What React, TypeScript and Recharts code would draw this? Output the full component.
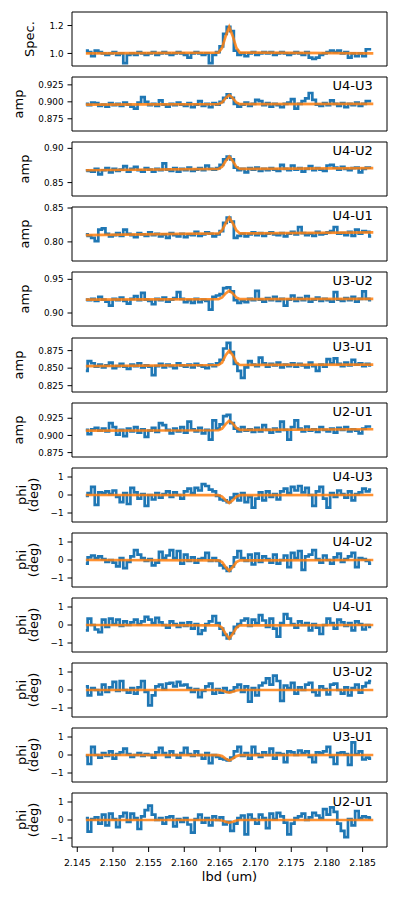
import React from 'react';
import { LineChart, Line, XAxis, YAxis, ReferenceArea } from 'recharts';

// wavelength grid of the measured spectra (um)
const lbd = [
  2.1462, 2.1467, 2.1472, 2.1477, 2.1482, 2.1487, 2.1492, 2.1497, 2.1502, 2.1507,
  2.1512, 2.1517, 2.1522, 2.1527, 2.1532, 2.1537, 2.1542, 2.1547, 2.1552, 2.1557,
  2.1562, 2.1567, 2.1572, 2.1577, 2.1582, 2.1587, 2.1592, 2.1597, 2.1602, 2.1607,
  2.1612, 2.1617, 2.1622, 2.1627, 2.1632, 2.1637, 2.1642, 2.1647, 2.1652, 2.1657,
  2.1662, 2.1667, 2.1672, 2.1677, 2.1682, 2.1687, 2.1692, 2.1697, 2.1702, 2.1707,
  2.1712, 2.1717, 2.1722, 2.1727, 2.1732, 2.1737, 2.1742, 2.1747, 2.1752, 2.1757,
  2.1762, 2.1767, 2.1772, 2.1777, 2.1782, 2.1787, 2.1792, 2.1797, 2.1802, 2.1807,
  2.1812, 2.1817, 2.1822, 2.1827, 2.1832, 2.1837, 2.1842, 2.1847, 2.1852, 2.1857,
  2.1862,
];

// wavelengths where the model curve is sampled
const modelLbd = [2.1462, 2.1648, 2.1653, 2.1658, 2.1663, 2.1668, 2.1673, 2.1678, 2.1865];

const lbdTicks = [2.145, 2.15, 2.155, 2.16, 2.165, 2.17, 2.175, 2.18, 2.185];
const specTicks = [1.0, 1.2];
const amp3Ticks = [0.875, 0.9, 0.925];
const u4u2Ticks = [0.85, 0.9];
const u4u1Ticks = [0.8, 0.85];
const u3u2Ticks = [0.9, 0.95];
const u3u1Ticks = [0.825, 0.85, 0.875];
const phiTicks = [-1, 0, 1];

const spec = [
  1.02, 1.01, 0.98, 1.02, 1.01, 1.0, 0.99, 1.0, 1.01, 0.99,
  1.0, 0.93, 0.99, 1.0, 0.99, 1.01, 1.0, 0.99, 1.0, 1.01,
  0.99, 1.0, 1.01, 1.0, 0.99, 1.0, 1.01, 1.0, 0.99, 0.97,
  1.0, 1.01, 1.0, 0.99, 1.0, 0.93, 0.99, 1.01, 1.05, 1.14,
  1.19, 1.16, 1.02, 0.99, 1.0, 0.98, 1.0, 1.01, 0.99, 1.0,
  1.01, 1.0, 1.01, 0.99, 1.0, 1.01, 1.0, 0.99, 1.0, 1.01,
  1.0, 0.99, 1.01, 0.97, 0.96, 0.97, 0.99, 1.0, 1.01, 1.02,
  1.01, 1.02, 1.0, 1.01, 0.97, 1.0, 0.98, 1.0, 0.98, 1.03,
  1.03,
];
const specModel = [1.0, 1.006, 1.04, 1.124, 1.19, 1.124, 1.04, 1.006, 1.0];

const ampU4U3 = [
  0.897, 0.895, 0.899, 0.898, 0.894, 0.896, 0.893, 0.898, 0.895, 0.897,
  0.894, 0.899, 0.896, 0.893, 0.89, 0.899, 0.907, 0.9, 0.895, 0.897,
  0.894, 0.902, 0.896, 0.893, 0.897, 0.895, 0.899, 0.896, 0.894, 0.898,
  0.892, 0.896, 0.901, 0.894, 0.897, 0.892, 0.898, 0.896, 0.9, 0.906,
  0.911, 0.906, 0.897, 0.893, 0.896, 0.899, 0.894, 0.897, 0.903, 0.901,
  0.895, 0.898, 0.893, 0.897, 0.895, 0.892, 0.897, 0.899, 0.904, 0.89,
  0.897, 0.901, 0.905, 0.913, 0.903, 0.896, 0.894, 0.898, 0.895, 0.902,
  0.897, 0.894, 0.898, 0.892, 0.897, 0.895, 0.899, 0.894, 0.897, 0.901,
  0.901,
];
const ampU4U3Model = [0.896, 0.8965, 0.899, 0.9055, 0.91, 0.9055, 0.899, 0.8965, 0.897];

const ampU4U2 = [
  0.868, 0.867, 0.866, 0.87, 0.862, 0.868, 0.871, 0.865, 0.87, 0.867,
  0.869, 0.874, 0.866, 0.87, 0.873, 0.868, 0.866, 0.871, 0.869, 0.866,
  0.87, 0.868, 0.878, 0.869, 0.867, 0.871, 0.866, 0.87, 0.868, 0.872,
  0.867, 0.869, 0.871, 0.868, 0.875, 0.87, 0.869, 0.871, 0.876, 0.884,
  0.888, 0.884, 0.872, 0.868, 0.87, 0.865, 0.871, 0.869, 0.872, 0.867,
  0.87, 0.868, 0.871, 0.869, 0.867, 0.876, 0.87, 0.868, 0.875, 0.869,
  0.871, 0.866, 0.87, 0.874, 0.868, 0.871, 0.869, 0.867, 0.875, 0.876,
  0.872, 0.869, 0.873, 0.87, 0.868, 0.871, 0.872, 0.865, 0.87, 0.872,
  0.872,
];
const ampU4U2Model = [0.868, 0.87, 0.873, 0.8815, 0.888, 0.8815, 0.873, 0.87, 0.871];

const ampU4U1 = [
  0.811, 0.809, 0.806, 0.801, 0.818, 0.82, 0.812, 0.808, 0.81, 0.813,
  0.809, 0.818, 0.812, 0.81, 0.807, 0.813, 0.811, 0.809, 0.814, 0.81,
  0.812, 0.808, 0.811, 0.806, 0.813, 0.81, 0.808, 0.812, 0.807, 0.811,
  0.81, 0.815, 0.809, 0.811, 0.814, 0.812, 0.808, 0.811, 0.816, 0.828,
  0.836, 0.83, 0.806, 0.809, 0.812, 0.808, 0.811, 0.814, 0.81, 0.813,
  0.809, 0.812, 0.814, 0.811, 0.81, 0.813, 0.808, 0.812, 0.815, 0.811,
  0.822, 0.813, 0.81, 0.812, 0.809, 0.815, 0.811, 0.812, 0.814, 0.816,
  0.822, 0.812, 0.813, 0.81, 0.815, 0.809, 0.818, 0.812, 0.816, 0.815,
  0.808,
];
const ampU4U1Model = [0.81, 0.8125, 0.817, 0.8275, 0.836, 0.8275, 0.817, 0.8125, 0.814];

const ampU3U2 = [
  0.92, 0.919, 0.921, 0.918, 0.924, 0.92, 0.917, 0.911, 0.921, 0.919,
  0.923, 0.918, 0.914, 0.921, 0.925, 0.919, 0.93, 0.92, 0.918, 0.913,
  0.921, 0.919, 0.923, 0.917, 0.92, 0.922, 0.931, 0.921, 0.916, 0.919,
  0.915, 0.921, 0.916, 0.92, 0.918, 0.905, 0.924, 0.926, 0.928, 0.937,
  0.938, 0.932, 0.919, 0.915, 0.918, 0.916, 0.921, 0.919, 0.933, 0.92,
  0.917, 0.922, 0.919, 0.924, 0.918, 0.921, 0.911, 0.92, 0.926, 0.918,
  0.922, 0.919, 0.925, 0.917, 0.92, 0.923, 0.918, 0.921, 0.919, 0.917,
  0.931, 0.92, 0.918, 0.922, 0.919, 0.924, 0.917, 0.921, 0.932, 0.921,
  0.919,
];
const ampU3U2Model = [0.92, 0.9205, 0.923, 0.929, 0.933, 0.929, 0.923, 0.9205, 0.921];

const ampU3U1 = [
  0.846, 0.86, 0.857, 0.852, 0.855, 0.851, 0.854, 0.858, 0.85, 0.853,
  0.856, 0.852, 0.849, 0.855, 0.853, 0.857, 0.851, 0.854, 0.852, 0.84,
  0.853, 0.856, 0.851, 0.855, 0.853, 0.85, 0.857, 0.854, 0.852, 0.855,
  0.851, 0.856, 0.854, 0.852, 0.85, 0.855, 0.853, 0.857, 0.862, 0.878,
  0.886, 0.873, 0.856, 0.846, 0.836, 0.851, 0.86, 0.855, 0.853, 0.865,
  0.857, 0.852, 0.856, 0.854, 0.858, 0.851, 0.855, 0.853, 0.857, 0.852,
  0.856, 0.854, 0.851, 0.858, 0.853, 0.846, 0.855, 0.852, 0.863, 0.857,
  0.864, 0.856, 0.853, 0.858, 0.854, 0.862, 0.855, 0.857, 0.853, 0.856,
  0.854,
];
const ampU3U1Model = [0.853, 0.8545, 0.858, 0.8685, 0.875, 0.8685, 0.858, 0.8545, 0.855];

const ampU2U1 = [
  0.908, 0.902, 0.909, 0.911, 0.907, 0.91, 0.906, 0.918, 0.912, 0.901,
  0.908, 0.899, 0.91, 0.906, 0.912, 0.904, 0.909, 0.898, 0.907, 0.911,
  0.905, 0.918, 0.915, 0.908, 0.903, 0.91, 0.906, 0.912, 0.904, 0.92,
  0.909, 0.906, 0.911, 0.903, 0.908, 0.894, 0.922, 0.91, 0.916, 0.928,
  0.93, 0.918, 0.91, 0.906, 0.912, 0.907, 0.909, 0.905, 0.911, 0.906,
  0.915, 0.908, 0.904, 0.91, 0.906, 0.92, 0.908, 0.894, 0.912, 0.922,
  0.91, 0.906, 0.913, 0.907, 0.909, 0.905, 0.912, 0.908, 0.906, 0.91,
  0.904, 0.911, 0.908, 0.912, 0.906, 0.909, 0.907, 0.903, 0.91, 0.913,
  0.913,
];
const ampU2U1Model = [0.907, 0.9075, 0.91, 0.9165, 0.9215, 0.9175, 0.911, 0.908, 0.909];

const phiU4U3 = [
  -0.05, 0.1, 0.45, -0.55, 0.15, 0.1, 0.2, 0.05, 0.25, -0.1,
  -0.4, 0.1, -0.5, 0.4, 0.15, -0.2, 0.05, -0.6, 0.0, -0.25,
  0.1, -0.15, 0.05, 0.2, -0.1, 0.15, 0.0, -0.2, 0.2, 0.35,
  0.1, 0.4, 0.25, 0.6, 0.5, 0.3, 0.2, -0.05, -0.25, -0.3,
  -0.4, -0.15, 0.05, -0.3, 0.1, -0.4, -0.1, -0.7, -0.2, 0.15,
  -0.3, 0.2, -0.1, 0.05, -0.25, 0.2, 0.35, 0.1, 0.45, 0.25,
  0.5, 0.15, 0.4, 0.0, -0.6, 0.2, 0.45, -0.2, -0.7, 0.1,
  -0.1, 0.25, 0.05, -0.15, 0.2, -0.3, 0.05, 0.15, 0.35, 0.2,
  0.3,
];
const phiU4U3Model = [0, -0.01, -0.09, -0.29, -0.45, -0.29, -0.09, -0.01, 0];

const phiU4U2 = [
  -0.2, 0.15, 0.25, 0.1, 0.2, 0.05, -0.1, 0.0, -0.15, -0.35,
  0.1, -0.45, -0.1, 0.2, 0.55, 0.3, 0.1, -0.05, 0.05, -0.3,
  -0.15, 0.45, 0.1, 0.25, 0.55, 0.1, 0.5, -0.2, 0.3, -0.05,
  0.15, -0.15, 0.05, 0.1, 0.4, -0.05, 0.1, -0.05, -0.3, -0.45,
  -0.6, -0.35, 0.15, 0.5, 0.1, -0.05, 0.3, -0.25, 0.35, -0.1,
  0.2, 0.05, -0.15, 0.3, -0.2, 0.0, 0.25, -0.4, 0.4, 0.1,
  0.5, -0.55, 0.2, 0.3, 0.55, 0.05, -0.15, 0.25, 0.0, -0.2,
  0.15, 0.35, -0.1, 0.05, 0.2, 0.4, -0.4, 0.1, 0.05, -0.05,
  -0.2,
];
const phiU4U2Model = [0, -0.02, -0.12, -0.39, -0.6, -0.39, -0.12, -0.02, 0];

const phiU4U1 = [
  -0.3, 0.35, 0.0, -0.25, -0.4, 0.3, -0.1, 0.35, 0.05, 0.3,
  -0.05, 0.2, 0.0, 0.15, 0.3, 0.05, 0.2, 0.45, 0.3, 0.1,
  0.4, 0.15, 0.0, -0.15, 0.2, 0.05, -0.1, 0.1, -0.05, 0.15,
  -0.2, 0.05, -0.5, -0.3, 0.05, 0.2, 0.5, 0.1, -0.2, -0.55,
  -0.75, -0.45, -0.1, 0.05, 0.25, 0.35, -0.05, 0.3, 0.1, 0.55,
  0.25, -0.1, 0.35, -0.2, -0.65, 0.1, 0.6, 0.35, 0.05, -0.15,
  0.2, 0.0, 0.1, -0.3, 0.05, -0.15, -0.5, 0.0, 0.35, 0.1,
  -0.2, 0.3, 0.15, -0.05, 0.1, -0.3, 0.2, 0.05, -0.25, 0.0,
  -0.1,
];
const phiU4U1Model = [0, -0.02, -0.15, -0.49, -0.75, -0.49, -0.15, -0.02, 0];

const phiU3U2 = [
  0.2, -0.3, 0.1, 0.0, -0.25, 0.3, -0.1, 0.15, 0.45, -0.05,
  0.5, 0.0, -0.15, 0.1, -0.2, 0.15, 0.5, -0.1, -0.85, -0.3,
  0.2, 0.3, 0.05, 0.35, 0.4, 0.2, 0.45, 0.25, 0.3, 0.1,
  -0.1, 0.05, -0.4, -0.05, 0.2, 0.35, -0.2, 0.05, -0.15, 0.1,
  -0.1, -0.05, 0.15, 0.3, -0.1, 0.2, -0.65, 0.1, -0.3, 0.25,
  0.4, 0.65, 0.3, 0.8, 0.5, -0.6, 0.25, 0.1, 0.4, -0.2,
  0.15, 0.0, 0.3, 0.4, -0.1, -0.3, 0.2, 0.05, -0.25, 0.3,
  0.35, 0.0, -0.2, 0.15, -0.3, 0.1, 0.3, -0.15, 0.2, 0.4,
  0.5,
];
const phiU3U2Model = [0, 0, -0.03, -0.1, -0.15, -0.1, -0.03, 0, 0];

const phiU3U1 = [
  -0.05, -0.5, 0.45, 0.0, -0.15, 0.1, -0.05, 0.2, -0.2, 0.05,
  0.15, 0.35, 0.05, -0.1, 0.0, 0.1, -0.05, 0.05, 0.0, -0.15,
  0.15, 0.4, 0.1, -0.1, 0.2, 0.0, -0.15, 0.1, 0.4, 0.05,
  -0.05, 0.2, 0.0, -0.2, 0.1, -0.45, 0.0, -0.1, -0.2, -0.25,
  -0.3, -0.15, 0.2, 0.45, -0.05, 0.1, -0.2, 0.45, 0.05, -0.1,
  0.15, 0.0, 0.35, -0.2, 0.1, 0.05, -0.4, 0.2, 0.15, 0.0,
  0.25, 0.1, 0.2, -0.1, -0.4, 0.15, 0.1, 0.2, 0.45, -0.1,
  -0.5, 0.1, 0.15, 0.05, -0.55, 0.7, 0.05, 0.2, -0.25, -0.15,
  -0.2,
];
const phiU3U1Model = [0, -0.01, -0.06, -0.2, -0.3, -0.2, -0.06, -0.01, 0];

const phiU2U1 = [
  0.1, -0.65, 0.05, 0.15, -0.2, 0.3, -0.3, 0.35, 0.05, -0.4,
  0.2, 0.4, -0.1, 0.35, 0.1, -0.5, 0.2, 0.55, 0.8, 0.3,
  0.0, 0.1, -0.2, 0.15, 0.2, -0.35, 0.05, -0.1, 0.1, -0.25,
  -0.7, 0.05, 0.3, -0.15, 0.1, -0.3, 0.2, 0.0, 0.15, -0.25,
  -0.1, -0.6, -0.2, 0.1, 0.25, -0.8, 0.3, 0.05, -0.2, 0.3,
  0.1, -0.45, 0.35, 0.05, 0.4, 0.2, -0.15, -0.8, -0.2, 0.1,
  0.2, 0.35, 0.0, 0.15, 0.4, 0.25, 0.1, 0.6, 0.3, 0.7,
  0.45, -0.2, -0.6, -0.95, 0.05, -0.3, 0.5, 0.1, 0.2, 0.15,
  0.1,
];
const phiU2U1Model = [0, 0, -0.03, -0.1, -0.15, -0.1, -0.03, 0, 0];

const PHI = ['phi', '(deg)'];

const panels = [
  { name: '', ylabel: ['Spec.'], values: spec, model: specModel, domain: [0.91, 1.297], ticks: specTicks, digits: 1, labelX: [33.5] },
  { name: 'U4-U3', ylabel: ['amp'], values: ampU4U3, model: ampU4U3Model, domain: [0.857, 0.9366], ticks: amp3Ticks, digits: 3, labelX: [22.5] },
  { name: 'U4-U2', ylabel: ['amp'], values: ampU4U2, model: ampU4U2Model, domain: [0.8304, 0.9093], ticks: u4u2Ticks, digits: 2, labelX: [29] },
  { name: 'U4-U1', ylabel: ['amp'], values: ampU4U1, model: ampU4U1Model, domain: [0.7718, 0.8515], ticks: u4u1Ticks, digits: 2, labelX: [29] },
  { name: 'U3-U2', ylabel: ['amp'], values: ampU3U2, model: ampU3U2Model, domain: [0.8807, 0.9609], ticks: u3u2Ticks, digits: 2, labelX: [29] },
  { name: 'U3-U1', ylabel: ['amp'], values: ampU3U1, model: ampU3U1Model, domain: [0.816, 0.893], ticks: u3u1Ticks, digits: 3, labelX: [22.5] },
  { name: 'U2-U1', ylabel: ['amp'], values: ampU2U1, model: ampU2U1Model, domain: [0.8686, 0.9472], ticks: amp3Ticks, digits: 3, labelX: [22.5] },
  { name: 'U4-U3', ylabel: PHI, values: phiU4U3, model: phiU4U3Model, domain: [-1.5, 1.5], ticks: phiTicks, digits: 0, labelX: [25.5, 38] },
  { name: 'U4-U2', ylabel: PHI, values: phiU4U2, model: phiU4U2Model, domain: [-1.5, 1.5], ticks: phiTicks, digits: 0, labelX: [25.5, 38] },
  { name: 'U4-U1', ylabel: PHI, values: phiU4U1, model: phiU4U1Model, domain: [-1.5, 1.5], ticks: phiTicks, digits: 0, labelX: [25.5, 38] },
  { name: 'U3-U2', ylabel: PHI, values: phiU3U2, model: phiU3U2Model, domain: [-1.5, 1.5], ticks: phiTicks, digits: 0, labelX: [25.5, 38] },
  { name: 'U3-U1', ylabel: PHI, values: phiU3U1, model: phiU3U1Model, domain: [-1.5, 1.5], ticks: phiTicks, digits: 0, labelX: [25.5, 38] },
  { name: 'U2-U1', ylabel: PHI, values: phiU2U1, model: phiU2U1Model, domain: [-1.5, 1.5], ticks: phiTicks, digits: 0, labelX: [25.5, 38] },
];

const X_DOMAIN: [number, number] = [2.14426, 2.18842];
const PLOT_LEFT = 72;
const PLOT_RIGHT = 387;
const TOP0 = 12;
const STEP = 65.1;
const PLOT_H = 54;
const PAD_TOP = 4;
const LABEL_SIZE = 13;

const fmtTick = (v: number, digits: number) => {
  const s = Math.abs(v).toFixed(digits);
  return v < 0 ? '\u2212' + s : s;
};

const Panel = ({ p, index, last }: { p: any; index: number; last: boolean }) => {
  const blue = lbd.map((x, i) => ({ lbd: x, v: p.values[i] }));
  const fit = modelLbd.map((x, i) => ({ lbd: x, v: p.model[i] }));
  const xAxisH = last ? 50 : 8;

  return (
    <div style={{ position: 'absolute', left: 0, top: TOP0 + index * STEP - PAD_TOP, width: 399 }}>
      <LineChart
        width={399}
        height={PAD_TOP + PLOT_H + xAxisH}
        margin={{ top: PAD_TOP, right: 399 - PLOT_RIGHT, bottom: 0, left: 0 }}
      >
        <XAxis
          type="number"
          dataKey="lbd"
          domain={X_DOMAIN}
          ticks={lbdTicks}
          interval={0}
          height={xAxisH}
          axisLine={false}
          tickSize={5}
          tickLine={{ stroke: '#000' }}
          tickMargin={7}
          tick={last ? { fontSize: 9.3, fill: '#000' } : false}
          tickFormatter={(v: number) => v.toFixed(3)}
          label={
            last
              ? {
                  content: (props: any) => {
                    const vb = props.viewBox;
                    return (
                      <text x={vb.x + vb.width / 2} y={vb.y + 34} textAnchor="middle" fontSize={LABEL_SIZE} fill="#000">
                        lbd (um)
                      </text>
                    );
                  },
                }
              : undefined
          }
        />
        <YAxis
          type="number"
          domain={p.domain}
          ticks={p.ticks}
          interval={0}
          width={PLOT_LEFT}
          axisLine={false}
          tickSize={4.5}
          tickLine={{ stroke: '#000' }}
          tickMargin={4}
          tick={{ fontSize: 8.8, fill: '#000' }}
          tickFormatter={(v: number) => fmtTick(v, p.digits)}
          label={{
            content: (props: any) => {
              const vb = props.viewBox;
              const cy = vb.y + vb.height / 2;
              return (
                <g>
                  {p.ylabel.map((t: string, i: number) => (
                    <text
                      key={t}
                      x={p.labelX[i]}
                      y={cy}
                      transform={`rotate(-90 ${p.labelX[i]} ${cy})`}
                      textAnchor="middle"
                      fontSize={LABEL_SIZE}
                      fill="#000"
                    >
                      {t}
                    </text>
                  ))}
                </g>
              );
            },
          }}
        />
        <ReferenceArea
          x1={X_DOMAIN[0]}
          x2={X_DOMAIN[1]}
          y1={p.domain[0]}
          y2={p.domain[1]}
          fill="none"
          stroke="#000"
          strokeWidth={1}
          ifOverflow="visible"
          label={{
            content: (props: any) => {
              const vb = props.viewBox;
              return (
                <text x={vb.x + vb.width - 14.3} y={vb.y + 13} textAnchor="end" fontSize={LABEL_SIZE} fill="#000">
                  {p.name}
                </text>
              );
            },
          }}
        />
        <Line
          data={blue}
          dataKey="v"
          type="step"
          stroke="#1f77b4"
          strokeWidth={2.7}
          dot={false}
          isAnimationActive={false}
        />
        <Line
          data={fit}
          dataKey="v"
          type="linear"
          stroke="#ff7f0e"
          strokeWidth={2.7}
          strokeOpacity={0.85}
          dot={false}
          isAnimationActive={false}
        />
      </LineChart>
    </div>
  );
};

export default function App() {
  return (
    <div
      style={{
        position: 'absolute',
        left: 0,
        top: 0,
        width: 399,
        height: 901,
        background: '#fff',
        fontFamily: '"DejaVu Sans", sans-serif',
      }}
    >
      {panels.map((p, i) => (
        <Panel key={i} p={p} index={i} last={i === panels.length - 1} />
      ))}
    </div>
  );
}
